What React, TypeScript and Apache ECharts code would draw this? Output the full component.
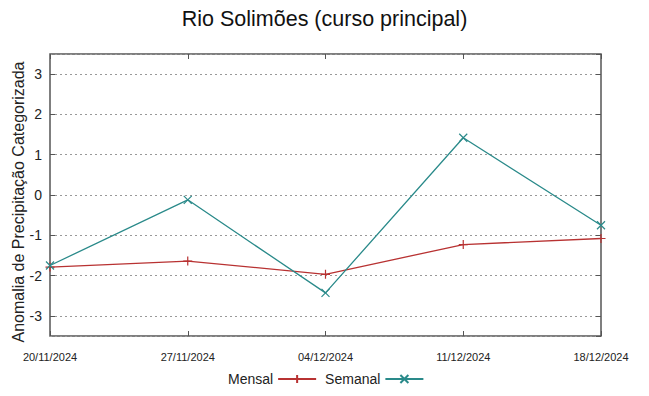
import React, { useEffect, useRef } from "react";
import * as echarts from "echarts";

const categories = ["20/11/2024", "27/11/2024", "04/12/2024", "11/12/2024", "18/12/2024"];
const mensal = [-1.79, -1.64, -1.97, -1.23, -1.08];
const semanal = [-1.75, -0.12, -2.43, 1.42, -0.75];
const titleText = "Rio Solimões (curso principal)";
const yAxisTitle = "Anomalia de Precipitação Categorizada";

const plusPath = "path://M0,5 L10,5 M5,0 L5,10";
const crossPath = "path://M0,0 L10,10 M10,0 L0,10";

export default function App() {
  const ref = useRef<HTMLDivElement>(null);
  useEffect(() => {
    if (!ref.current) return;
    const chart = echarts.init(ref.current, null, { renderer: "svg" });
    const font = "'Liberation Sans', Arial, sans-serif";
    const axisGray = "#555";
    chart.setOption({
      animation: false,
      textStyle: { fontFamily: font },
      title: {
        text: titleText,
        left: "center",
        top: 3,
        textStyle: { fontSize: 21.5, fontWeight: "normal", color: "#111", fontFamily: font },
      },
      grid: {
        left: 50,
        right: 48,
        top: 54,
        bottom: 60,
        show: true,
        borderColor: axisGray,
        borderWidth: 1.5,
        backgroundColor: "transparent",
        containLabel: false,
        outerBoundsMode: "none",
      },
      legend: {
        bottom: 5,
        left: 223,
        align: "right",
        itemWidth: 38,
        itemHeight: 10,
        itemGap: 8,
        textStyle: { fontSize: 14, color: "#222", fontFamily: font },
        data: ["Mensal", "Semanal"],
      },
      xAxis: [
        {
          type: "category",
          data: categories,
          boundaryGap: false,
          axisLine: { show: false, onZero: false },
          axisTick: { show: true, inside: true, length: 5, lineStyle: { color: axisGray } },
          axisLabel: {
            fontSize: 11,
            color: "#222",
            margin: 15,
            fontFamily: font,
          },
          splitLine: { show: false },
        },
        {
          type: "category",
          data: categories,
          boundaryGap: false,
          position: "top",
          axisLine: { show: false, onZero: false },
          axisTick: { show: true, inside: true, length: 5, lineStyle: { color: axisGray } },
          axisLabel: { show: false },
          splitLine: { show: false },
        },
      ],
      yAxis: [
        {
          type: "value",
          min: -3.5,
          max: 3.5,
          splitNumber: 7,
          axisLine: { show: false },
          axisTick: { show: true, inside: true, length: 5, lineStyle: { color: axisGray } },
          axisLabel: {
            fontSize: 14,
            color: "#222",
            margin: 8,
            showMinLabel: false,
            showMaxLabel: false,
          },
          splitLine: { show: true, lineStyle: { type: [2, 3], color: "#999", width: 1 } },
          name: yAxisTitle,
          nameLocation: "middle",
          nameGap: 24,
          nameRotate: 90,
          nameMoveOverlap: false,
          nameTextStyle: { fontSize: 16, color: "#222", fontFamily: font, padding: [0, 14, 0, 0] },
        },
        {
          type: "value",
          min: -3.5,
          max: 3.5,
          splitNumber: 7,
          position: "right",
          axisLine: { show: false },
          axisTick: { show: true, inside: true, length: 5, lineStyle: { color: axisGray } },
          axisLabel: { show: false },
          splitLine: { show: false },
        },
      ],
      series: [
        {
          name: "Mensal",
          type: "line",
          data: mensal,
          symbol: plusPath,
          symbolSize: 9,
          lineStyle: { color: "#b83232", width: 1.3 },
          itemStyle: { color: "#b83232", borderColor: "#b83232", borderWidth: 1.2 },
        },
        {
          name: "Semanal",
          type: "line",
          data: semanal,
          symbol: crossPath,
          symbolSize: 8,
          lineStyle: { color: "#2a8a8a", width: 1.3 },
          itemStyle: { color: "#2a8a8a", borderColor: "#2a8a8a", borderWidth: 1.2 },
        },
      ],
    });
    return () => chart.dispose();
  }, []);
  return <div ref={ref} style={{ width: 649, height: 396, position: "absolute", left: 0, top: 0 }} />;
}
